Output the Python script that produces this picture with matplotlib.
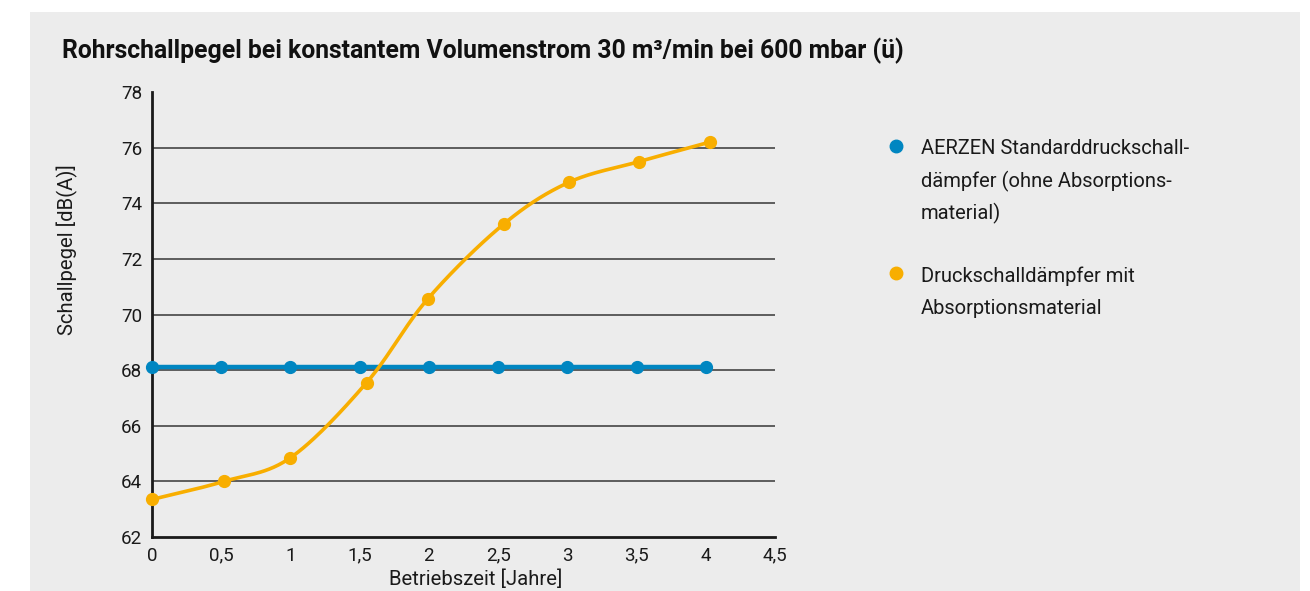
import numpy as np
import matplotlib
matplotlib.use("Agg")
import matplotlib.pyplot as plt
from matplotlib.patches import Rectangle

plt.rcParams['font.family'] = ['Roboto', 'DejaVu Sans']

# Data
years = [0, 0.5, 1, 1.5, 2, 2.5, 3, 3.5, 4]
standard_db = [68.1, 68.1, 68.1, 68.1, 68.1, 68.1, 68.1, 68.1, 68.1]
absorb_years = [0, 0.52, 1.0, 1.55, 1.99, 2.54, 3.01, 3.52, 4.03]
absorb_db = [63.35, 64.0, 64.85, 67.55, 70.55, 73.25, 74.75, 75.5, 76.2]

x_ticks = [0, 0.5, 1, 1.5, 2, 2.5, 3, 3.5, 4, 4.5]
x_labels = ['0', '0,5', '1', '1,5', '2', '2,5', '3', '3,5', '4', '4,5']
y_ticks = [62, 64, 66, 68, 70, 72, 74, 76, 78]

legend_blue = ['AERZEN Standarddruckschall-', 'dämpfer (ohne Absorptions-', 'material)']
legend_orange = ['Druckschalldämpfer mit', 'Absorptionsmaterial']

BLUE = '#0086c1'
ORANGE = '#f8ae00'
BG = '#ececec'
TXT = '#1a1a1a'


def smooth(xs, ys, n=30):
    # catmull-rom curve through the points (like a smoothed excel line)
    p = np.column_stack([xs, ys]).astype(float)
    p = np.vstack([2 * p[0] - p[1], p, 2 * p[-1] - p[-2]])
    out = []
    t = np.linspace(0, 1, n)[:, None]
    for i in range(1, len(p) - 2):
        p0, p1, p2, p3 = p[i - 1], p[i], p[i + 1], p[i + 2]
        seg = 0.5 * ((2 * p1) + (-p0 + p2) * t + (2 * p0 - 5 * p1 + 4 * p2 - p3) * t ** 2
                     + (-p0 + 3 * p1 - 3 * p2 + p3) * t ** 3)
        out.append(seg)
    c = np.vstack(out)
    return c[:, 0], c[:, 1]


fig = plt.figure(figsize=(13.1, 5.91), dpi=100)
fig.patch.set_facecolor('white')
fig.patches.append(Rectangle((30 / 1310, 0), 1270 / 1310, 579 / 591,
                             transform=fig.transFigure, facecolor=BG,
                             edgecolor='none', zorder=-10))

ax = fig.add_axes([152 / 1310, 1 - 537 / 591, 623 / 1310, 445 / 591])
ax.set_facecolor(BG)
ax.set_xlim(0, 4.5)
ax.set_ylim(62, 78)
ax.set_xticks(x_ticks)
ax.set_xticklabels(x_labels)
ax.set_yticks(y_ticks)
ax.tick_params(length=0, labelsize=13.5, colors=TXT, pad=7)
for s in ['top', 'right']:
    ax.spines[s].set_visible(False)
for s in ['left', 'bottom']:
    ax.spines[s].set_linewidth(2)
    ax.spines[s].set_color(TXT)
for y in y_ticks[1:-1]:
    ax.axhline(y, color='#444444', lw=1.2, zorder=1)

ax.plot(years, standard_db, color=BLUE, lw=3.2, marker='o', ms=8.5,
        clip_on=False, zorder=3)
sx, sy = smooth(absorb_years, absorb_db)
ax.plot(sx, sy, color=ORANGE, lw=2.6, zorder=4, clip_on=False)
ax.plot(absorb_years, absorb_db, 'o', color=ORANGE, ms=8.5, zorder=5, clip_on=False)

fig.text(62 / 1310, 1 - 51 / 591,
         'Rohrschallpegel bei konstantem Volumenstrom 30 m³/min bei 600 mbar (ü)',
         fontsize=17.8, fontweight='bold', color='#111111', va='center', ha='left')
fig.text(67 / 1310, 1 - 250 / 591, 'Schallpegel [dB(A)]', rotation=90,
         fontsize=14.6, color=TXT, ha='center', va='center')
fig.text(476 / 1310, 1 - 579 / 591, 'Betriebszeit [Jahre]',
         fontsize=14.6, color=TXT, ha='center', va='center')

# legend
fig.lines.append(plt.Line2D([896 / 1310], [1 - 146 / 591], marker='o', ms=9,
                            color=BLUE, transform=fig.transFigure))
fig.lines.append(plt.Line2D([896 / 1310], [1 - 273 / 591], marker='o', ms=9,
                            color=ORANGE, transform=fig.transFigure))
for i, line in enumerate(legend_blue):
    fig.text(921 / 1310, 1 - (147 + 32 * i) / 591, line, fontsize=14.5,
             color=TXT, ha='left', va='center_baseline')
for i, line in enumerate(legend_orange):
    fig.text(921 / 1310, 1 - (274 + 32 * i) / 591, line, fontsize=14.5,
             color=TXT, ha='left', va='center_baseline')

fig.savefig('out.png', dpi=100, facecolor='white')
